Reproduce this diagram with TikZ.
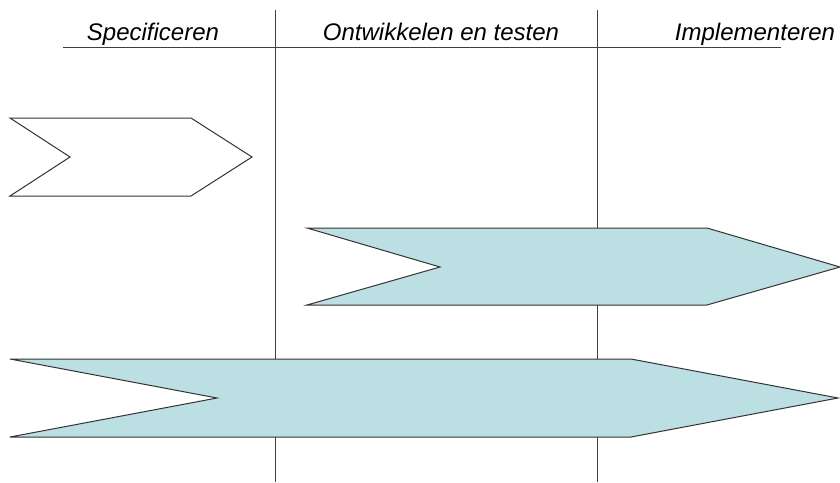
\documentclass[tikz,border=0pt]{standalone}
\usepackage{fontspec}
\setmainfont{Liberation Sans}
\usetikzlibrary{positioning}

\definecolor{phasefill}{RGB}{188,223,227}

\begin{document}
\begin{tikzpicture}[
    x=1pt, y=-1pt,
    phase/.style={font=\fontsize{24}{28}\selectfont\itshape, anchor=base, inner sep=0pt},
    divider/.style={draw=black!75, line width=0.8pt},
    chevron/.style={draw=black!80, line width=1pt, line join=miter}
  ]
  \useasboundingbox (0,0) rectangle (840,482);

  % phase headings
  \node[phase] (spec) at (153,40) {Specificeren};
  \node[phase] (ontw) at (441,40) {Ontwikkelen en testen};
  \node[phase] (impl) at (755,40) {Implementeren};

  \coordinate (rule-l) at (63,47);
  \coordinate (rule-r) at (781,47);
  \draw[divider] (rule-l) -- (rule-r);

  % phase boundaries
  \foreach \x/\n in {275/a,597/b} {
      \coordinate (top-\n) at (\x,10);
      \coordinate (bot-\n) at (\x,482);
      \draw[divider] (top-\n) -- (bot-\n);
    }

  % chevrons
  \draw[chevron, fill=white] (10,118) -- (191,118) -- (252,157) -- (191,196) -- (10,196) -- (70,157) -- cycle;
  \draw[chevron, fill=phasefill] (307,228) -- (707,228) -- (840,267) -- (707,305) -- (307,305) -- (440,267) -- cycle;
  \draw[chevron, fill=phasefill] (10,359) -- (631,359) -- (838,398) -- (631,437) -- (10,437) -- (217,398) -- cycle;

\end{tikzpicture}
\end{document}
